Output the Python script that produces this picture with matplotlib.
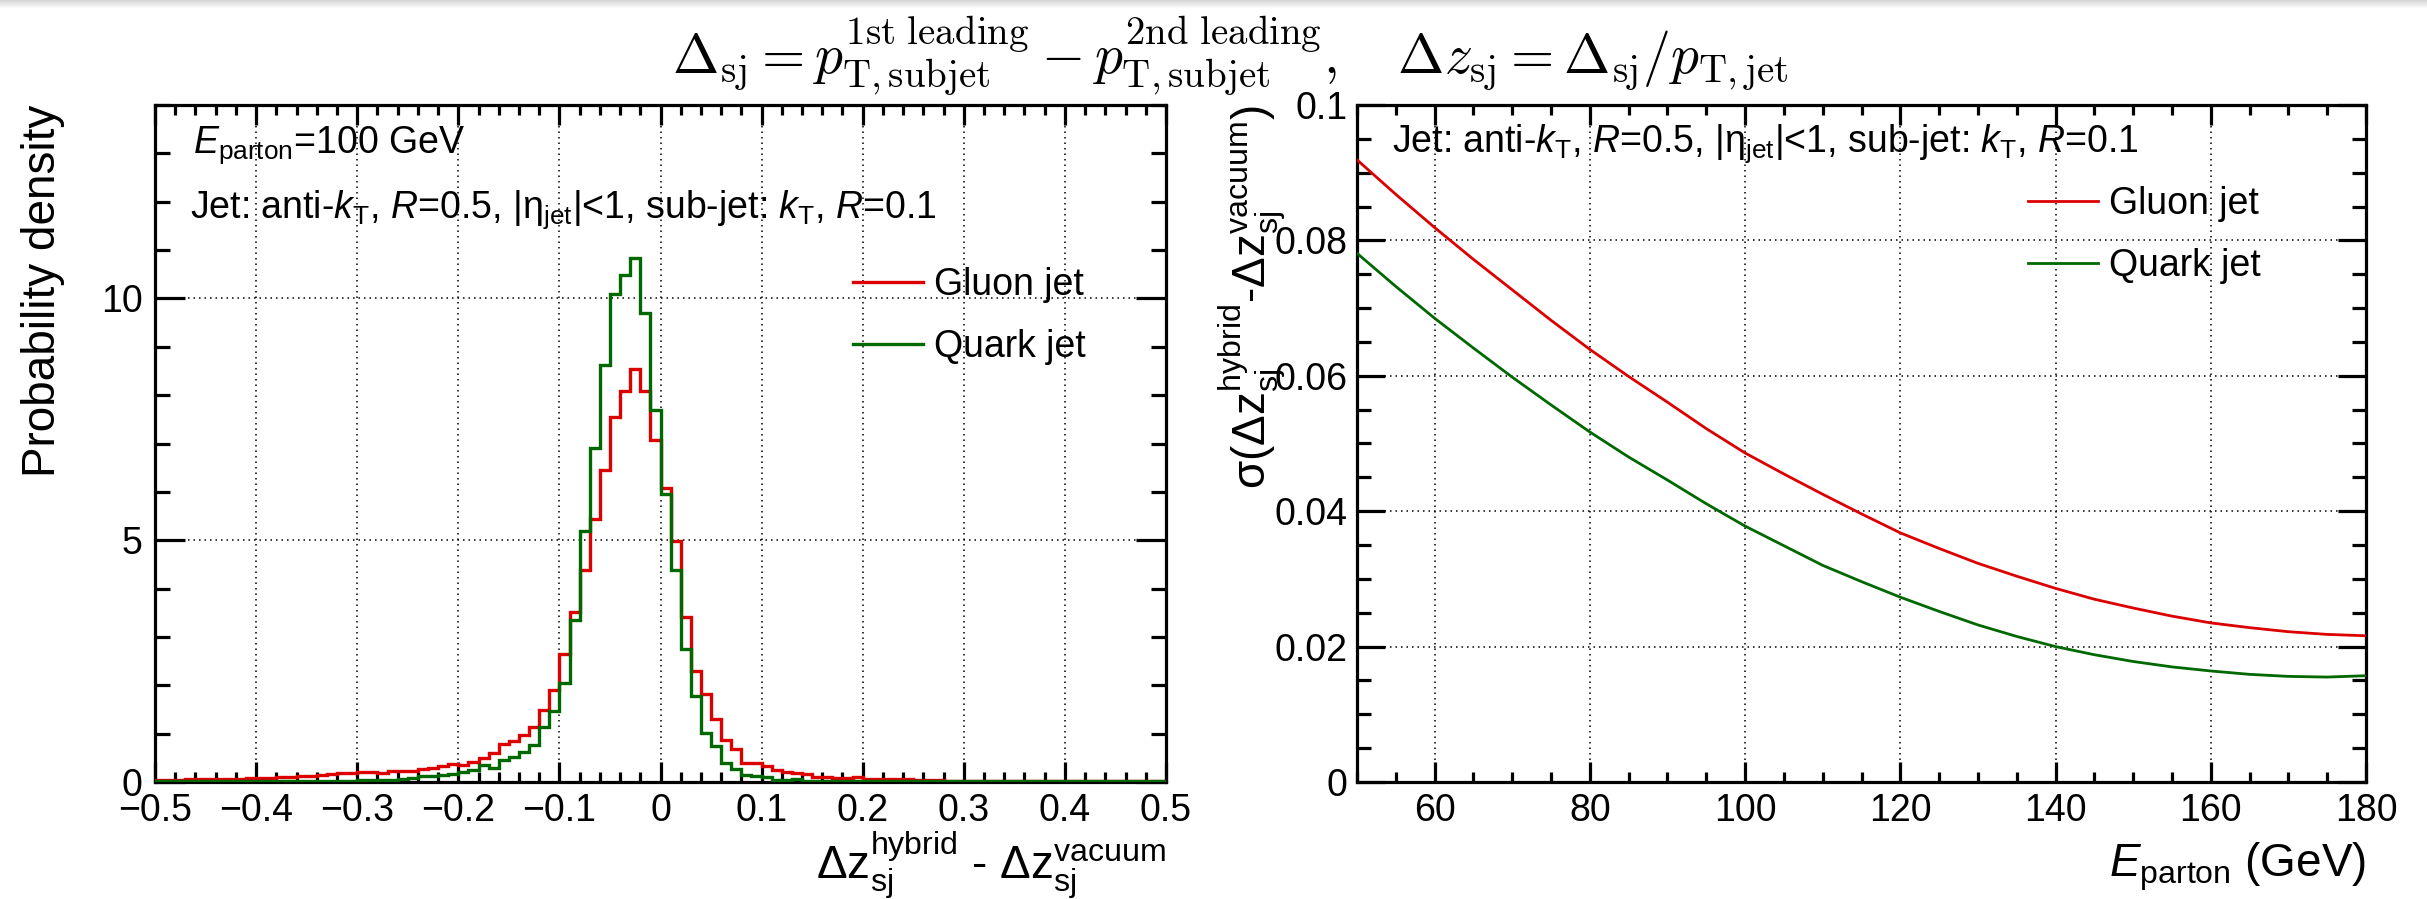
import numpy as np
import matplotlib
matplotlib.use("Agg")
import matplotlib.pyplot as plt
from matplotlib.ticker import FixedLocator, MultipleLocator, FixedFormatter

plt.rcParams["font.family"] = ["Liberation Sans", "DejaVu Sans"]
plt.rcParams["mathtext.fontset"] = "custom"
plt.rcParams["mathtext.rm"] = "Liberation Sans"
plt.rcParams["mathtext.it"] = "Liberation Sans:italic"
plt.rcParams["mathtext.bf"] = "Liberation Sans:bold"
plt.rcParams["axes.unicode_minus"] = True

# ---- left panel: distribution of dz_sj(hybrid) - dz_sj(vacuum), E_parton = 100 GeV
hist_range = (-0.5, 0.5)
n_bins = 100

gluon_density = [
    0.05, 0.05, 0.05, 0.06, 0.06, 0.06, 0.07, 0.07, 0.07, 0.08,
    0.08, 0.09, 0.10, 0.10, 0.12, 0.13, 0.15, 0.16, 0.18, 0.19,
    0.20, 0.20, 0.18, 0.22, 0.23, 0.23, 0.27, 0.28, 0.33, 0.38,
    0.36, 0.42, 0.50, 0.61, 0.79, 0.84, 0.98, 1.13, 1.49, 1.90,
    2.64, 3.51, 4.38, 5.43, 6.45, 7.55, 8.08, 8.54, 8.08, 7.07,
    6.08, 4.99, 3.42, 2.30, 1.83, 1.30, 0.87, 0.68, 0.39, 0.40,
    0.34, 0.25, 0.21, 0.19, 0.16, 0.11, 0.11, 0.09, 0.09, 0.11,
    0.07, 0.06, 0.06, 0.07, 0.07, 0.04, 0.04, 0.04, 0.03, 0.03,
    0.03, 0.03, 0.03, 0.02, 0.03, 0.02, 0.02, 0.02, 0.02, 0.02,
    0.02, 0.02, 0.02, 0.03, 0.02, 0.02, 0.02, 0.03, 0.02, 0.02,
]

quark_density = [
    0.02, 0.02, 0.02, 0.02, 0.02, 0.02, 0.02, 0.02, 0.02, 0.02,
    0.02, 0.02, 0.02, 0.02, 0.03, 0.02, 0.03, 0.03, 0.03, 0.03,
    0.05, 0.05, 0.04, 0.05, 0.06, 0.08, 0.12, 0.12, 0.14, 0.17,
    0.21, 0.25, 0.36, 0.29, 0.45, 0.52, 0.62, 0.77, 1.14, 1.47,
    2.05, 3.35, 5.19, 6.91, 8.63, 10.10, 10.48, 10.83, 9.69, 7.69,
    5.96, 4.38, 2.76, 1.78, 1.01, 0.75, 0.39, 0.27, 0.14, 0.12,
    0.10, 0.04, 0.04, 0.06, 0.03, 0.03, 0.03, 0.02, 0.02, 0.02,
    0.02, 0.02, 0.02, 0.02, 0.02, 0.02, 0.02, 0.02, 0.02, 0.02,
    0.02, 0.02, 0.02, 0.02, 0.02, 0.02, 0.02, 0.02, 0.02, 0.02,
    0.02, 0.02, 0.02, 0.02, 0.02, 0.02, 0.02, 0.02, 0.02, 0.02,
]

left_xticks = [-0.5, -0.4, -0.3, -0.2, -0.1, 0.0, 0.1, 0.2, 0.3, 0.4, 0.5]
left_xticklabels = ["\u22120.5", "\u22120.4", "\u22120.3", "\u22120.2", "\u22120.1",
                    "0", "0.1", "0.2", "0.3", "0.4", "0.5"]
left_yticks = [0, 5, 10]
left_yticklabels = ["0", "5", "10"]

# ---- right panel: width of the distribution vs parton energy
e_parton = [50, 55, 60, 65, 70, 75, 80, 85, 90, 95, 100, 105, 110, 115,
            120, 125, 130, 135, 140, 145, 150, 155, 160, 165, 170, 175, 180]
sigma_gluon = [0.0919, 0.0868, 0.0819, 0.0772, 0.0727, 0.0682, 0.0639, 0.0599,
               0.0561, 0.0522, 0.0486, 0.0455, 0.0425, 0.0396, 0.0368, 0.0345,
               0.0323, 0.0304, 0.0286, 0.0270, 0.0257, 0.0245, 0.0235, 0.0228,
               0.0222, 0.0218, 0.0216]
sigma_quark = [0.0781, 0.0732, 0.0685, 0.0641, 0.0598, 0.0557, 0.0517, 0.0480,
               0.0446, 0.0411, 0.0378, 0.0349, 0.0320, 0.0296, 0.0273, 0.0252,
               0.0232, 0.0215, 0.0200, 0.0188, 0.0178, 0.0170, 0.0164, 0.0159,
               0.0156, 0.0155, 0.0157]

right_xticks = [60, 80, 100, 120, 140, 160, 180]
right_xticklabels = ["60", "80", "100", "120", "140", "160", "180"]
right_yticks = [0.0, 0.02, 0.04, 0.06, 0.08, 0.1]
right_yticklabels = ["0", "0.02", "0.04", "0.06", "0.08", "0.1"]

series_labels = ["Gluon jet", "Quark jet"]
RED = "#dc0000"
GREEN = "#006800"

W, H = 2427, 899
fig = plt.figure(figsize=(W / 100, H / 100), dpi=100)
fig.patch.set_facecolor("white")

# faint shading along the top edge of the canvas
ax_bg = fig.add_axes([0, 1 - 9 / H, 1, 9 / H])
ax_bg.imshow(np.linspace(0.84, 1.0, 9)[:, None] * np.ones((1, 4)), cmap="gray",
             vmin=0, vmax=1, aspect="auto", interpolation="bilinear")
ax_bg.set_axis_off()

ax_l = fig.add_axes([155 / W, (H - 782) / H, (1166 - 155) / W, (782 - 105) / H])
ax_r = fig.add_axes([1357 / W, (H - 782) / H, (2366 - 1357) / W, (782 - 105) / H])

SPINE_W = 2.3
TICK_FS = 27
LABEL_FS = 33
TEXT_FS = 27


def style_axes(ax, xmajor_len, ymajor_len, ypad, xpad):
    for s in ax.spines.values():
        s.set_linewidth(SPINE_W)
    ax.tick_params(which="both", direction="in", top=True, right=True,
                   width=SPINE_W, colors="black")
    ax.tick_params(axis="x", which="major", length=xmajor_len, labelsize=TICK_FS, pad=xpad)
    ax.tick_params(axis="x", which="minor", length=xmajor_len / 2)
    ax.tick_params(axis="y", which="major", length=ymajor_len, labelsize=TICK_FS, pad=ypad)
    ax.tick_params(axis="y", which="minor", length=ymajor_len / 2)
    ax.grid(True, which="major", color="black", linestyle=(0, (1, 2.6)), linewidth=1.1)
    ax.set_axisbelow(False)


def add_legend(ax, anchor, lw):
    ax.legend(loc="upper left", bbox_to_anchor=anchor, frameon=False,
              fontsize=TEXT_FS, handlelength=1.87, handletextpad=0.3,
              labelspacing=0.68, borderpad=0, borderaxespad=0,
              handles=[plt.Line2D([], [], color=RED, lw=lw),
                       plt.Line2D([], [], color=GREEN, lw=lw)],
              labels=series_labels)


# left panel
edges = np.linspace(hist_range[0], hist_range[1], n_bins + 1)
ax_l.stairs(gluon_density, edges, color=RED, linewidth=2.4, zorder=3)
ax_l.stairs(quark_density, edges, color=GREEN, linewidth=2.4, zorder=4)
ax_l.set_xlim(-0.5, 0.5)
ax_l.set_ylim(0, 14)
ax_l.xaxis.set_major_locator(FixedLocator(left_xticks))
ax_l.xaxis.set_major_formatter(FixedFormatter(left_xticklabels))
ax_l.xaxis.set_minor_locator(MultipleLocator(0.02))
ax_l.yaxis.set_major_locator(FixedLocator(left_yticks))
ax_l.yaxis.set_major_formatter(FixedFormatter(left_yticklabels))
ax_l.yaxis.set_minor_locator(MultipleLocator(1))
style_axes(ax_l, 14.5, 21.5, 9, 8)

ax_l.set_ylabel("Probability density", fontsize=LABEL_FS, loc="top")
ax_l.yaxis.set_label_coords(-0.089, 1.0)
ax_l.set_xlabel(r"$\Delta\mathrm{z}^{\rm hybrid}_{\rm sj}$ - $\Delta\mathrm{z}^{\rm vacuum}_{\rm sj}$",
                fontsize=LABEL_FS, loc="right")
ax_l.xaxis.set_label_coords(1.0, -0.071)

ax_l.text(0.0376, 0.929, r"$E_{\rm parton}$=100 GeV", transform=ax_l.transAxes,
          fontsize=TEXT_FS, va="baseline", ha="left")
ax_l.text(0.035, 0.833,
          r"Jet: anti-$k_{\rm T}$, $R$=0.5, |η$_{\rm jet}$|<1, sub-jet: $k_{\rm T}$, $R$=0.1",
          transform=ax_l.transAxes, fontsize=TEXT_FS, va="baseline", ha="left")
add_legend(ax_l, (0.690, 0.760), 2.4)

# right panel
ax_r.plot(e_parton, sigma_gluon, color=RED, linewidth=2.0, zorder=3)
ax_r.plot(e_parton, sigma_quark, color=GREEN, linewidth=2.0, zorder=3)
ax_r.set_xlim(50, 180)
ax_r.set_ylim(0, 0.1)
ax_r.xaxis.set_major_locator(FixedLocator(right_xticks))
ax_r.xaxis.set_major_formatter(FixedFormatter(right_xticklabels))
ax_r.xaxis.set_minor_locator(MultipleLocator(5))
ax_r.yaxis.set_major_locator(FixedLocator(right_yticks))
ax_r.yaxis.set_major_formatter(FixedFormatter(right_yticklabels))
ax_r.yaxis.set_minor_locator(MultipleLocator(0.005))
style_axes(ax_r, 14.5, 20, 7, 8)

ax_r.set_ylabel(r"σ(Δ$\mathrm{z}^{\rm hybrid}_{\rm sj}$-Δ$\mathrm{z}^{\rm vacuum}_{\rm sj}$)",
                fontsize=LABEL_FS, loc="top")
ax_r.yaxis.set_label_coords(-0.068, 1.0)
ax_r.set_xlabel(r"$E_{\rm parton}$ (GeV)", fontsize=LABEL_FS, loc="right")
ax_r.xaxis.set_label_coords(1.0, -0.087)

ax_r.text(0.0347, 0.9306,
          r"Jet: anti-$k_{\rm T}$, $R$=0.5, |η$_{\rm jet}$|<1, sub-jet: $k_{\rm T}$, $R$=0.1",
          transform=ax_r.transAxes, fontsize=TEXT_FS, va="baseline", ha="left")
add_legend(ax_r, (0.665, 0.880), 2.0)

# definition of the observable
fig.text(0.507, 0.937,
         r"$\Delta_{\rm sj} = p_{\rm T,subjet}^{\rm 1st\ leading} - p_{\rm T,subjet}^{\rm 2nd\ leading},\quad \Delta z_{\rm sj} = \Delta_{\rm sj}/p_{\rm T,jet}$",
         fontsize=40, ha="center", va="center", math_fontfamily="cm")

fig.savefig("out.png", dpi=100, facecolor="white")
